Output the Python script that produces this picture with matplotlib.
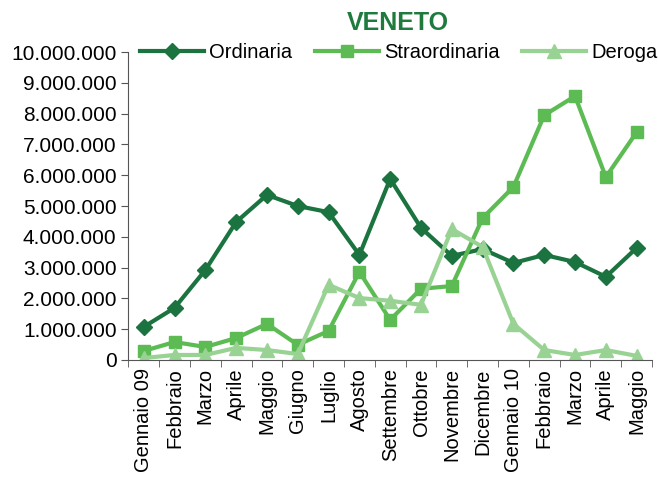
import matplotlib
matplotlib.use("Agg")
import matplotlib.pyplot as plt
from matplotlib.ticker import FuncFormatter, FixedLocator

plt.rcParams['font.family'] = ['Liberation Sans', 'DejaVu Sans']

mesi = ['Gennaio 09', 'Febbraio', 'Marzo', 'Aprile', 'Maggio', 'Giugno', 'Luglio',
        'Agosto', 'Settembre', 'Ottobre', 'Novembre', 'Dicembre', 'Gennaio 10',
        'Febbraio', 'Marzo', 'Aprile', 'Maggio']
ordinaria = [1070000, 1690000, 2920000, 4480000, 5360000, 5000000, 4800000, 3410000,
             5880000, 4290000, 3380000, 3600000, 3150000, 3410000, 3180000, 2700000, 3640000]
straordinaria = [290000, 580000, 420000, 710000, 1170000, 490000, 940000, 2860000,
                 1300000, 2310000, 2400000, 4610000, 5620000, 7950000, 8570000, 5940000, 7400000]
deroga = [60000, 160000, 160000, 390000, 320000, 190000, 2440000, 2010000,
          1920000, 1790000, 4250000, 3670000, 1170000, 320000, 160000, 320000, 130000]

c_ord = '#1b7340'
c_str = '#5cbb53'
c_der = '#98d394'

fig = plt.figure(figsize=(6.58, 4.87), dpi=100)
ax = fig.add_axes([0.195, 0.261, 0.796, 0.632])

x = range(len(mesi))
ax.plot(x, ordinaria, color=c_ord, lw=3, marker='D', ms=8, label='Ordinaria')
ax.plot(x, straordinaria, color=c_str, lw=3, marker='s', ms=9, label='Straordinaria')
ax.plot(x, deroga, color=c_der, lw=3, marker='^', ms=10, label='Deroga')

ax.set_xlim(-0.5, len(mesi) - 0.5)
ax.set_ylim(0, 10000000)
ax.set_yticks(range(0, 10000001, 1000000))
ax.yaxis.set_major_formatter(FuncFormatter(lambda v, p: f'{int(v):,}'.replace(',', '.')))

ax.set_xticks(list(x))
ax.set_xticklabels(mesi, rotation=90, fontsize=14.5)
ax.xaxis.set_minor_locator(FixedLocator([i - 0.5 for i in range(len(mesi) + 1)]))
ax.tick_params(axis='x', which='major', length=0, pad=6)
ax.tick_params(axis='x', which='minor', length=5, direction='out', color='#555555')
ax.tick_params(axis='y', length=5, direction='out', labelsize=15, color='#555555')

for s in ['top', 'right']:
    ax.spines[s].set_visible(False)
for s in ['left', 'bottom']:
    ax.spines[s].set_color('#555555')

fig.text(0.605, 0.952, 'VENETO', ha='center', va='center', fontsize=18,
         fontweight='bold', color='#1f7a3e')
fig.legend(loc='center', bbox_to_anchor=(0.606, 0.893), ncol=3, frameon=False,
           fontsize=14.5, handlelength=3.2, columnspacing=1.1, handletextpad=0.25,
           borderaxespad=0, borderpad=0)

fig.savefig('out.png', dpi=100)
